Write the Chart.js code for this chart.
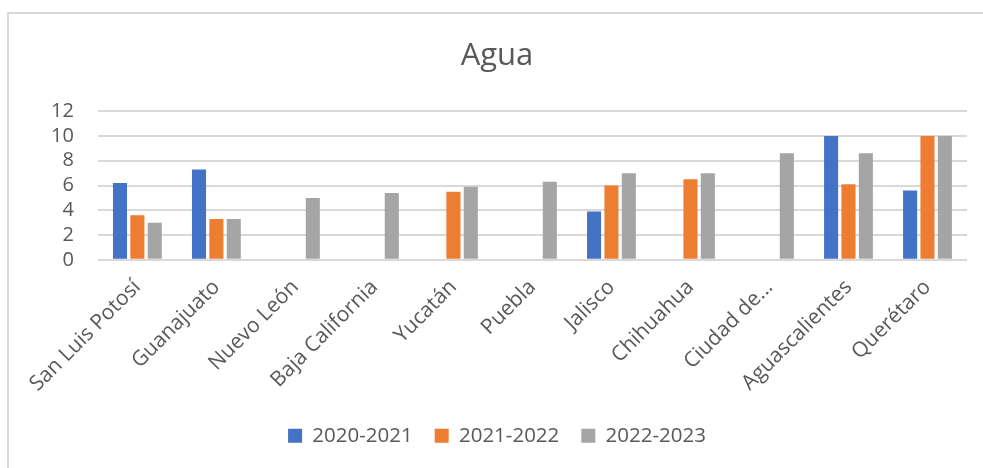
<!DOCTYPE html>
<html lang="es">
<head>
    <meta charset="UTF-8">
    <title>Agua</title>
    <script src="https://cdn.jsdelivr.net/npm/chart.js"></script>
    <style>
        body { margin: 0; background: #fff; }
        .frame {
            position: absolute; left: 7px; top: 12px;
            width: 1000px; height: 500px;
            border-left: 2px solid #d9d9d9; border-top: 2px solid #d9d9d9;
        }
        .chart-box { position: absolute; left: 0; top: 0; width: 983px; height: 468px; }
    </style>
</head>
<body>
<div class="frame"></div>
<div class="chart-box">
    <canvas id="aguaChart" width="983" height="468"></canvas>
</div>
<script>
    // Estados
    const estados = ['San Luis Potosí', 'Guanajuato', 'Nuevo León', 'Baja California', 'Yucatán',
        'Puebla', 'Jalisco', 'Chihuahua', 'Ciudad de...', 'Aguascalientes', 'Querétaro'];

    // Valores por periodo (null = sin dato)
    const p2020_2021 = [6.2, 7.3, null, null, null, null, 3.9, null, null, 10, 5.6];
    const p2021_2022 = [3.6, 3.3, null, null, 5.5, null, 6.0, 6.5, null, 6.1, 10];
    const p2022_2023 = [3.0, 3.3, 5.0, 5.4, 5.9, 6.3, 7.0, 7.0, 8.6, 8.6, 10];

    const textColor = '#595959';
    const fontFamily = '"Open Sans", sans-serif';

    const config = {
        type: 'bar',
        data: {
            labels: estados,
            datasets: [
                { label: '2020-2021', data: p2020_2021, backgroundColor: '#4472c4' },
                { label: '2021-2022', data: p2021_2022, backgroundColor: '#ed7d31' },
                { label: '2022-2023', data: p2022_2023, backgroundColor: '#a5a5a5' }
            ]
        },
        options: {
            responsive: false,
            animation: false,
            categoryPercentage: 0.66,
            barPercentage: 0.81,
            layout: { padding: { left: 27, right: 16, top: 12, bottom: 12 } },
            plugins: {
                title: {
                    display: true,
                    text: 'Agua',
                    color: textColor,
                    font: { family: fontFamily, size: 31, weight: 'normal' },
                    padding: { top: 26, bottom: 36 }
                },
                legend: {
                    position: 'bottom',
                    labels: {
                        color: textColor,
                        font: { family: fontFamily, size: 20.5 },
                        boxWidth: 14, boxHeight: 14,
                        padding: 22
                    }
                },
                tooltip: { enabled: false }
            },
            scales: {
                x: {
                    grid: { display: false },
                    border: { display: false },
                    ticks: {
                        color: textColor,
                        font: { family: fontFamily, size: 21 },
                        minRotation: 45, maxRotation: 45,
                        autoSkip: false,
                        padding: 7
                    }
                },
                y: {
                    min: 0, max: 12,
                    ticks: {
                        stepSize: 2,
                        autoSkip: false,
                        color: textColor,
                        font: { family: fontFamily, size: 20 },
                        padding: 24
                    },
                    grid: { color: '#d9d9d9', lineWidth: 2, drawTicks: false },
                    border: { display: false }
                }
            }
        }
    };

    new Chart(document.getElementById('aguaChart'), config);
</script>
</body>
</html>
